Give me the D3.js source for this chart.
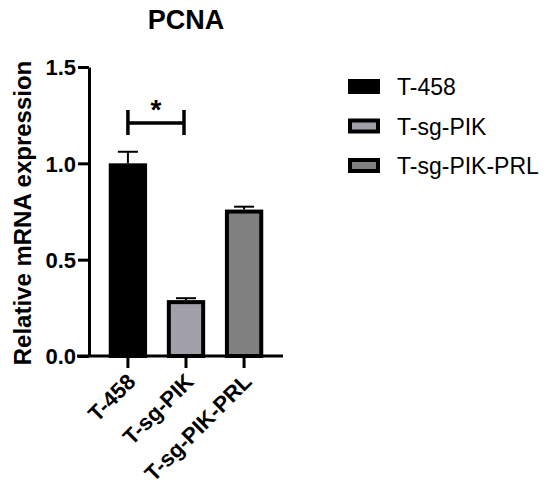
<!DOCTYPE html>
<html>
<head>
<meta charset="utf-8">
<script src="https://cdn.jsdelivr.net/npm/d3@7"></script>
<style>
  body { margin: 0; background: #fff; }
  text { font-family: Arial, "Liberation Sans", sans-serif; }
</style>
</head>
<body>
<svg width="550" height="489"></svg>
<script>
const categories = ["T-458", "T-sg-PIK", "T-sg-PIK-PRL"];
const means = [1.0, 0.29, 0.76];
const errors = [0.06, 0.01, 0.015];
const fills = ["#000000", "#a19fa7", "#808080"];
const yTicks = [0.0, 0.5, 1.0, 1.5];

function draw() {
  const svg = d3.select("svg");

  const x = d3.scaleBand()
    .domain(categories)
    .range([89, 283])
    .padding(0.34);

  const y = d3.scaleLinear()
    .domain([0, 1.5])
    .range([356, 67]);

  // title
  svg.append("text")
    .attr("x", 186)
    .attr("y", 29)
    .attr("text-anchor", "middle")
    .attr("font-size", 27)
    .attr("font-weight", "bold")
    .text("PCNA");

  // y label
  svg.append("text")
    .attr("transform", "translate(31,213) rotate(-90)")
    .attr("text-anchor", "middle")
    .attr("font-size", 24)
    .attr("font-weight", "bold")
    .text("Relative mRNA expression");

  // bars
  const bw = 4;
  svg.selectAll(".bar")
    .data(categories)
    .enter()
    .append("rect")
    .attr("class", "bar")
    .attr("x", d => x(d) + bw / 2)
    .attr("width", x.bandwidth() - bw)
    .attr("y", (d, i) => y(means[i]) + bw / 2)
    .attr("height", (d, i) => y(0) - y(means[i]) - bw / 2)
    .attr("fill", (d, i) => fills[i])
    .attr("stroke", "#000")
    .attr("stroke-width", bw);

  // error bars (upper only)
  const cap = 20;
  categories.forEach((c, i) => {
    const cx = x(c) + x.bandwidth() / 2;
    svg.append("line")
      .attr("x1", cx).attr("x2", cx)
      .attr("y1", y(means[i])).attr("y2", y(means[i] + errors[i]))
      .attr("stroke", "#000").attr("stroke-width", 2);
    svg.append("line")
      .attr("x1", cx - cap / 2).attr("x2", cx + cap / 2)
      .attr("y1", y(means[i] + errors[i])).attr("y2", y(means[i] + errors[i]))
      .attr("stroke", "#000").attr("stroke-width", 2);
  });

  // y axis
  const yAxis = svg.append("g")
    .attr("transform", "translate(89,0)")
    .call(d3.axisLeft(y).tickValues(yTicks).tickFormat(d3.format(".1f")).tickSize(11).tickSizeOuter(0));
  yAxis.select(".domain").attr("stroke-width", 3);
  yAxis.selectAll(".tick line").attr("stroke-width", 3);
  yAxis.selectAll(".tick text")
    .attr("x", -13)
    .attr("dy", "0.36em")
    .attr("font-size", 22)
    .attr("font-weight", "bold")
    .attr("font-family", "Arial, 'Liberation Sans', sans-serif")
    .attr("fill", "#000");

  // x axis
  const xAxis = svg.append("g")
    .attr("transform", "translate(0,356)")
    .call(d3.axisBottom(x).tickSize(12).tickSizeOuter(0));
  xAxis.select(".domain")
    .attr("d", "M77,0H283")
    .attr("stroke-width", 3);
  xAxis.selectAll(".tick line").attr("stroke-width", 3);
  xAxis.selectAll(".tick text")
    .attr("y", 0)
    .attr("dy", 0)
    .attr("transform", "translate(9,27) rotate(-45)")
    .attr("text-anchor", "end")
    .attr("font-size", 22)
    .attr("font-weight", "bold")
    .attr("font-family", "Arial, 'Liberation Sans', sans-serif")
    .attr("fill", "#000");

  // significance bracket
  const x1 = x(categories[0]) + x.bandwidth() / 2;
  const x2 = x(categories[1]) + x.bandwidth() / 2 - 2;
  const by = 123;
  svg.append("path")
    .attr("d", `M${x1},${by - 13}V${by + 12}M${x1},${by}H${x2}M${x2},${by - 13}V${by + 12}`)
    .attr("fill", "none")
    .attr("stroke", "#000")
    .attr("stroke-width", 3.5);
  svg.append("text")
    .attr("x", (x1 + x2) / 2)
    .attr("y", 119)
    .attr("text-anchor", "middle")
    .attr("font-size", 28)
    .attr("font-weight", "bold")
    .text("*");

  // legend
  const legend = svg.append("g").attr("transform", "translate(348,79)");
  categories.forEach((c, i) => {
    const row = legend.append("g").attr("transform", `translate(0,${i * 39.5})`);
    row.append("rect")
      .attr("x", i === 0 ? 0 : 2)
      .attr("y", i === 0 ? 0 : 2)
      .attr("width", i === 0 ? 32 : 28)
      .attr("height", i === 0 ? 15 : 11)
      .attr("fill", fills[i])
      .attr("stroke", i === 0 ? "none" : "#000")
      .attr("stroke-width", 4);
    row.append("text")
      .attr("x", 49)
      .attr("y", 16)
      .attr("font-size", 23)
      .text(c);
  });
}

window.onload = draw;
</script>
</body>
</html>
